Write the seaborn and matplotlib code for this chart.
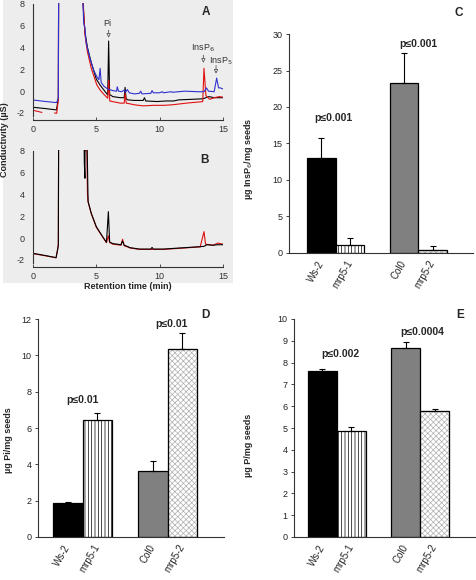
import numpy as np
import pandas as pd
import matplotlib
matplotlib.use("Agg")
import matplotlib.pyplot as plt
import seaborn as sns
from matplotlib.patches import Rectangle

# ---------------- chromatogram data (panel A) ----------------
a_blue_t = [0, 1.0, 1.87, 2.0, 2.07, 3.85, 3.95, 4.0, 4.05, 4.1, 4.2, 4.5, 4.8, 5.03, 5.2, 5.3, 5.38,
            5.6, 5.9, 6.3, 6.6, 6.65, 6.75, 7.0, 7.2, 7.3, 7.45, 7.6, 8.0, 8.4, 8.5, 8.6, 9.3, 9.4,
            9.5, 10.0, 10.2, 10.3, 10.9, 11.0, 12.0, 13.0, 13.5, 13.7, 13.85, 14.3, 14.5, 14.65, 14.8, 15.0]
a_blue_v = [-0.81, -0.95, -1.05, -0.6, 30, 30, 8, 6.3, 6.0, 5.8, 4.4, 3.0, 1.9, 1.35, 1.05, 2.1, 0.8,
            0.45, 0.2, 0.05, 0.0, 0.4, 0.0, -0.05, 0.1, -0.1, 0.15, -0.15, -0.25, -0.2, 0.0, -0.25, -0.2, 0.05,
            -0.15, -0.15, -0.05, -0.15, -0.05, -0.1, 0.0, -0.05, -0.05, 0.3, 0.0, -0.05, 1.2, 0.3, 0.3, 0.2]

a_black_t = [0, 1.0, 1.85, 2.0, 2.07, 3.85, 3.95, 4.1, 4.3, 4.6, 5.0, 5.3, 5.6, 5.9, 5.97, 6.05, 6.3,
             6.9, 7.2, 7.27, 7.35, 7.5, 8.0, 8.7, 8.8, 8.9, 9.8, 10.5, 11.1, 11.5, 12.5, 13.4, 13.9,
             14.3, 14.7, 15.0]
a_black_v = [-1.48, -1.6, -1.72, -0.7, 30, 30, 8, 5.4, 4.0, 2.6, 1.1, 0.55, 0.1, -0.35, 4.6, -0.3, -0.5,
             -0.6, -0.6, 0.35, -0.7, -0.8, -0.85, -0.85, -0.6, -0.9, -0.95, -0.9, -0.9, -0.8, -0.75, -0.7, -0.5,
             -0.6, -0.6, -0.6]

a_red_t = [0, 0.7, 1.7, 1.87, 2.0, 2.07, 3.85, 3.97, 4.1, 4.3, 4.6, 5.03, 5.3, 5.6, 5.9, 5.98, 6.06,
           6.3, 6.9, 7.2, 7.28, 7.36, 7.6, 8.0, 8.7, 9.5, 10.3, 11.0, 12.1, 13.0, 13.4, 13.5, 13.65,
           13.95, 14.3, 14.7, 15.0]
a_red_v = [-1.75, -1.95, -2.0, -2.03, -0.8, 30, 30, 8, 5.2, 3.6, 2.1, 0.6, 0.1, -0.3, -0.65, 1.0, -0.9,
           -0.96, -1.1, -1.1, -0.15, -1.1, -1.15, -1.25, -1.35, -1.3, -1.3, -1.25, -1.1, -1.0, -0.96, 2.1, -0.4,
           -0.75, -0.6, -0.5, -0.55]
a_red_seg = [0, 0] + [1] * 35

# ---------------- chromatogram data (panel B) ----------------
b_black_t = [0, 1.0, 1.82, 1.95, 2.0, 2.07, 3.88, 4.05, 4.1, 4.15, 4.2, 4.28, 4.35, 4.6, 5.0, 5.5, 5.8,
             5.95, 6.05, 6.3, 6.95, 7.07, 7.2, 7.5, 7.65, 8.4, 9.3, 9.4, 9.5, 10.3, 11.6, 13.2, 13.5,
             13.75, 14.2, 14.6, 15.0]
b_black_v = [-1.39, -1.6, -1.79, -1.0, -0.6, 30, 30, 7.0, 5.5, 30, 30, 8, 3.35, 2.28, 1.05, 0.14, -0.38,
             2.43, -0.35, -0.5, -0.6, -0.26, -0.65, -0.78, -0.87, -1.0, -1.0, -0.85, -1.0, -1.0, -0.9, -0.78, -0.75,
             -0.6, -0.65, -0.6, -0.6]
b_red_t = [0, 1.0, 1.82, 1.95, 2.0, 2.07, 3.9, 4.15, 4.2, 4.25, 4.3, 4.35, 4.6, 5.0, 5.5, 5.8,
           5.95, 6.05, 6.3, 6.95, 7.07, 7.2, 7.5, 7.65, 8.4, 9.3, 9.5, 10.3, 11.6, 13.2, 13.5,
           13.62, 14.2, 14.6, 15.0]
b_red_v = [-1.42, -1.62, -1.8, -1.0, -0.6, 30, 30, 8, 30, 8, 4.0, 3.35, 2.25, 1.0, 0.1, -0.42,
           0.23, -0.4, -0.55, -0.65, -0.1, -0.7, -0.82, -0.9, -1.03, -1.03, -1.03, -1.03, -0.93, -0.8, 0.6,
           -0.55, -0.65, -0.45, -0.55]

# ---------------- bar chart data ----------------
genotypes = ["Ws-2", "mrp5-1", "Col0", "mrp5-2"]
c_vals = [13.0, 1.1, 23.3, 0.4]
c_errs = [2.7, 1.0, 4.1, 0.6]
d_vals = [1.87, 6.43, 3.62, 10.35]
d_errs = [0.08, 0.42, 0.58, 0.9]
e_vals = [7.6, 4.85, 8.65, 5.77]
e_errs = [0.12, 0.2, 0.3, 0.1]
c_pvals = ["p≤0.001", "p≤0.001"]
d_pvals = ["p≤0.01", "p≤0.01"]
e_pvals = ["p≤0.002", "p≤0.0004"]

# ---------------- styling ----------------
sns.set_style("ticks")
plt.rcParams["font.family"] = ["Liberation Sans", "DejaVu Sans"]
plt.rcParams["axes.unicode_minus"] = False
plt.rcParams["hatch.linewidth"] = 0.5

W, H = 477, 580
fig = plt.figure(figsize=(W / 100, H / 100), dpi=100)


def ax_px(l, t, r, b):
    return fig.add_axes([l / W, 1 - b / H, (r - l) / W, (b - t) / H])


fig.add_artist(Rectangle((3 / W, 1 - 283 / H), 230 / W, 283 / H, transform=fig.transFigure,
                         facecolor="#ededed", edgecolor="none", zorder=-5))

SPINE = "#333333"


def chrom(ax, traces):
    for t, v, seg, col in traces:
        df = pd.DataFrame({"t": t, "v": v, "seg": seg})
        sns.lineplot(data=df, x="t", y="v", units="seg", estimator=None, sort=False,
                     color=col, lw=0.8, ax=ax)
    ax.set_xlim(0, 15)
    ax.set_ylim(-2.6, 8.05)
    ax.set_facecolor("none")
    for s in ["top", "right"]:
        ax.spines[s].set_visible(False)
    ax.spines["left"].set_bounds(-2.3, 8)
    for s in ["left", "bottom"]:
        ax.spines[s].set_color(SPINE)
        ax.spines[s].set_linewidth(0.8)
    ax.set_xticks([0, 5, 10, 15])
    ax.set_yticks([-2, 0, 2, 4, 6, 8])
    ax.tick_params(axis="x", direction="in", length=2, width=0.6, pad=4, labelsize=6.5, colors="#333333")
    ax.tick_params(axis="y", length=0, pad=6, labelsize=6.5, colors="#333333")
    ax.set_xlabel("")
    ax.set_ylabel("")


axA = ax_px(33, 3.45, 223, 119.5)
chrom(axA, [(a_black_t, a_black_v, [0] * len(a_black_t), "black"),
            (a_red_t, a_red_v, a_red_seg, "#e01010"),
            (a_blue_t, a_blue_v, [0] * len(a_blue_t), "#3030d0")])
axB = ax_px(33, 150.45, 223, 266.5)
chrom(axB, [(b_red_t, b_red_v, [0] * len(b_red_t), "#e01010"),
            (b_black_t, b_black_v, [0] * len(b_black_t), "black")])

arrow = dict(arrowstyle="-|>", fc="white", ec="#555555", lw=0.6, mutation_scale=6, shrinkA=0, shrinkB=0)
axA.annotate("", xy=(5.97, 4.9), xytext=(5.97, 5.6), arrowprops=arrow)
axA.text(5.9, 6.25, "Pi", ha="center", va="center", fontsize=6.5, color="#333333")
axA.annotate("", xy=(13.45, 2.6), xytext=(13.45, 3.3), arrowprops=arrow)
axA.text(13.45, 3.9, "InsP$_6$", ha="center", va="center", fontsize=6.5, color="#333333")
axA.annotate("", xy=(14.45, 1.6), xytext=(14.45, 2.35), arrowprops=arrow)
axA.text(14.8, 2.75, "InsP$_5$", ha="center", va="center", fontsize=6.5, color="#333333", clip_on=False)

fig.text(5 / W, 1 - 140 / H, "Conductivity (µS)", rotation=90, ha="center", va="center",
         fontsize=6.5, weight="bold")
fig.text(128 / W, 1 - 287 / H, "Retention time (min)", ha="center", va="center",
         fontsize=6.5, weight="bold")

# ---------------- bar charts ----------------
positions = [0, 1, 2.9, 3.9]
colors = {"Ws-2": "black", "mrp5-1": "white", "Col0": "#808080", "mrp5-2": "white"}
hatches = {"Ws-2": "", "mrp5-1": "|||||", "Col0": "", "mrp5-2": "xxxxxx"}


def bars(ax, vals, errs, ylim, yticks, ylabel, lab_x, lab_y, xlim, pvals, ppos):
    df = pd.DataFrame({"pos": positions, "val": vals, "g": genotypes})
    sns.barplot(data=df, x="pos", y="val", hue="g", palette=colors, native_scale=True,
                width=1.0, dodge=False, legend=False, edgecolor="black", linewidth=0.9,
                errorbar=None, ax=ax)
    for p in list(ax.patches):
        cx = p.get_x() + p.get_width() / 2
        i = int(np.argmin([abs(cx - q) for q in positions]))
        g = genotypes[i]
        if hatches[g]:
            p.set_hatch(hatches[g])
            if g == "mrp5-2":
                p.set_edgecolor("#b0b0b0")
                ax.add_patch(Rectangle((p.get_x(), p.get_y()), p.get_width(), p.get_height(),
                                       fill=False, edgecolor="black", linewidth=0.9, zorder=3))
    ax.errorbar(positions, vals, yerr=[np.zeros(len(vals)), errs], fmt="none", ecolor="black",
                elinewidth=0.8, capsize=2.5, capthick=0.8, zorder=4)
    ax.set_xlim(*xlim)
    ax.set_ylim(*ylim)
    ax.set_yticks(yticks)
    ax.set_xticks(positions)
    ax.set_xticklabels(genotypes, rotation=60, ha="right", rotation_mode="anchor", va="center",
                       fontsize=7)
    ax.tick_params(axis="x", length=0, pad=6)
    ax.tick_params(axis="y", length=2.2, width=0.6, pad=2.5, labelsize=6.5, colors="#222222")
    for s in ["top", "right"]:
        ax.spines[s].set_visible(False)
    for s in ["left", "bottom"]:
        ax.spines[s].set_color(SPINE)
        ax.spines[s].set_linewidth(0.8)
    ax.set_xlabel("")
    ax.set_ylabel(ylabel, fontsize=6.5, weight="bold")
    ax.yaxis.set_label_coords(lab_x, lab_y)
    for txt, (x, y) in zip(pvals, ppos):
        ax.text(x, y, txt, ha="center", va="center", fontsize=7.5, weight="bold")


axC = ax_px(289, 34, 473, 253)
bars(axC, c_vals, c_errs, (0, 30), [0, 5, 10, 15, 20, 25, 30], "µg InsP$_6$/mg seeds",
     -0.185, 0.43, (-1.14, 5.32), c_pvals, [(0.4, 18.5), (3.39, 28.6)])
axD = ax_px(38, 319, 224, 537)
bars(axD, d_vals, d_errs, (0, 12), [0, 2, 4, 6, 8, 10, 12], "µg Pi/mg seeds",
     -0.134, 0.445, (-1.03, 5.33), d_pvals, [(0.48, 7.54), (3.52, 11.7)])
axE = ax_px(294, 319, 476, 537)
bars(axE, e_vals, e_errs, (0, 10), list(range(0, 11)), "µg P/mg seeds",
     -0.225, 0.42, (-0.99, 5.34), e_pvals, [(0.61, 8.4), (3.46, 9.4)])

for lab, x, y in [("A", 206, 12), ("B", 205, 160), ("C", 459, 13), ("D", 205, 315), ("E", 460, 315)]:
    fig.text(x / W, 1 - y / H, lab, ha="center", va="center", fontsize=8.5, weight="bold")

fig.savefig("out.png", dpi=100)
